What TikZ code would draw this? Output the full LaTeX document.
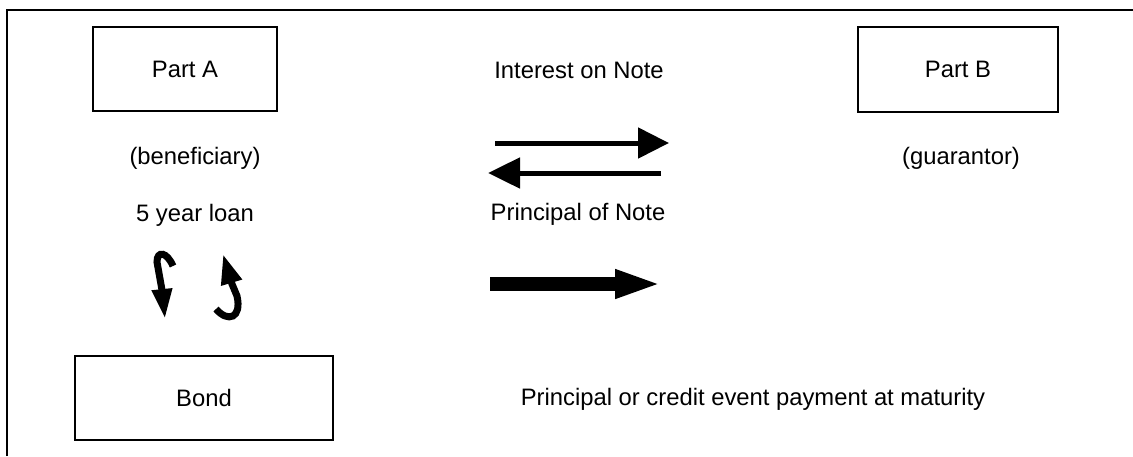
\documentclass[tikz,border=0pt]{standalone}
\usepackage{fontspec}
\setmainfont{Liberation Sans}
\usetikzlibrary{arrows.meta}

\tikzset{
    party/.style={draw, line width=1pt, inner sep=0pt},
    lbl/.style={inner sep=0pt}
}

\begin{document}
\begin{tikzpicture}[x=0.5pt, y=-0.5pt, font=\fontsize{11.9}{14}\selectfont]
            \useasboundingbox (0,0) rectangle (1133,456);
            % frame
            \draw[line width=1pt] (7,456) -- (7,10) -- (1133,10);
            % parties
            \node[party, minimum width=92pt, minimum height=42pt] (partA) at (185,69) {Part A};
            \node[party, minimum width=100pt, minimum height=42.5pt] (partB) at (958,69.5) {Part B};
            \node[party, minimum width=129pt, minimum height=42pt] (bond) at (204,398) {Bond};
            \node[lbl] (benef) at (195,158) {(beneficiary)};
            \node[lbl] (guar) at (961,158) {(guarantor)};
            \node[lbl] (loan) at (195,215) {5 year loan};
            \node[lbl] (interest) at (579,70) {Interest on Note};
            \node[lbl] (principal) at (578,214) {Principal of Note};
            \node[lbl] (maturity) at (753,399) {Principal or credit event payment at maturity};
            % arrow ends
            \coordinate (i1) at (495,143);
            \coordinate (i2) at (669,143);
            \coordinate (p1) at (661,173);
            \coordinate (p2) at (488,173);
            \coordinate (m1) at (490,284);
            \coordinate (m2) at (662,284);
            \draw[line width=2.5pt, -{Triangle[length=15.5pt, width=15pt]}] (i1) -- (i2);
            \draw[line width=2.5pt, -{Triangle[length=16pt, width=15pt]}] (p1) -- (p2);
            \draw[line width=7pt, -{Triangle[length=23.5pt, width=13pt]}] (m1) -- (m2);
            % loan arrows
            \coordinate (l1) at (173,266);
            \coordinate (l2) at (165,319);
            \coordinate (r1) at (216,309);
            \coordinate (r2) at (223,254);
            \draw[line width=3.5pt, -{Triangle[length=15pt, width=9.5pt]}]
                (l1) .. controls (167,252) and (157,250) .. (157,262) -- (162,290) -- (l2);
            \draw[line width=3.5pt, -{Triangle[length=15pt, width=10pt]}]
                (r1) .. controls (228,323) and (242,318) .. (237,296) -- (232,284) -- (r2);
        \end{tikzpicture}
\end{document}
